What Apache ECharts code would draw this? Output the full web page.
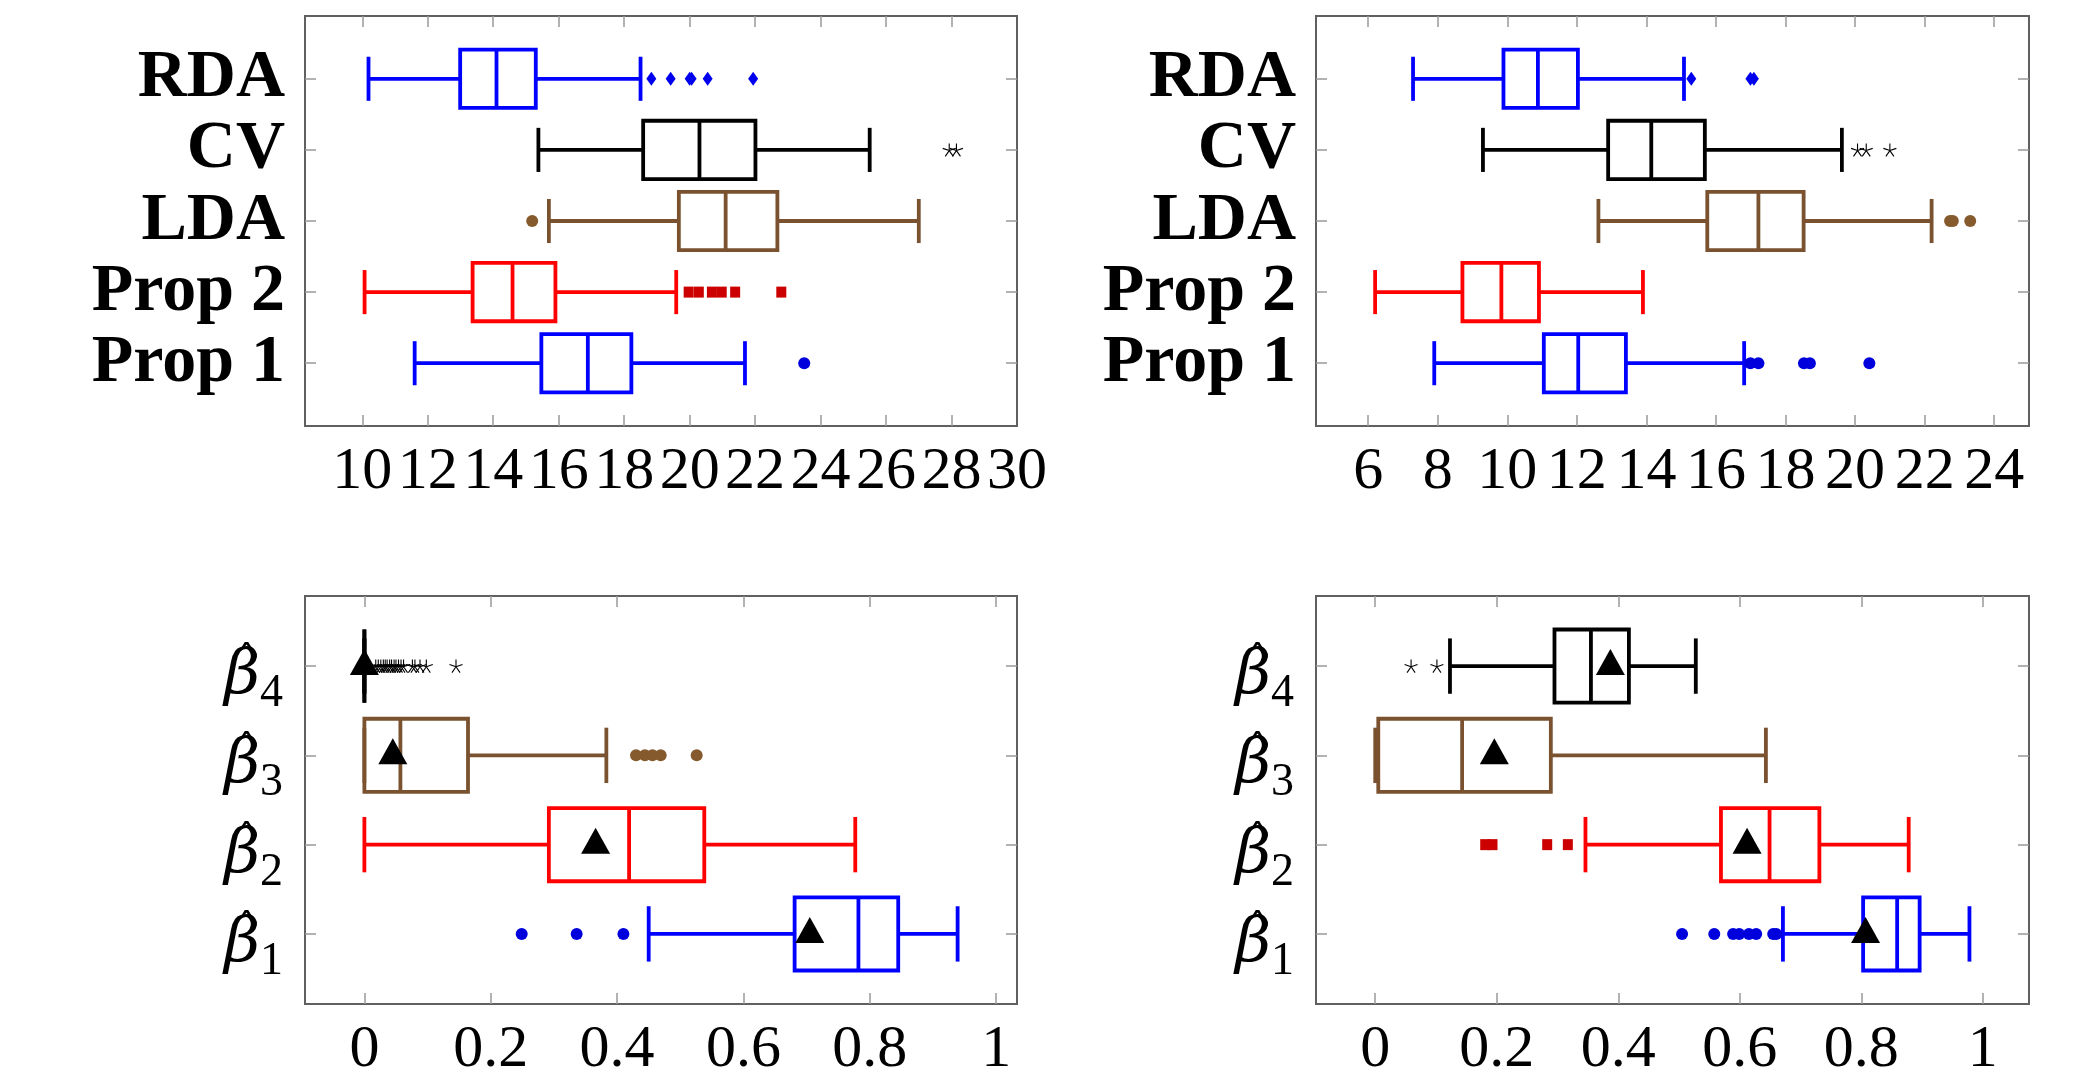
<!DOCTYPE html>
<html><head><meta charset="utf-8">
<script src="https://cdn.jsdelivr.net/npm/echarts@6/dist/echarts.min.js"></script>
<style>html,body{margin:0;padding:0;background:#fff}#c{width:2092px;height:1080px}</style>
</head><body><div id="c"></div>
<script>
// ---------- DATA ----------
// categories, bottom to top
const methodNames = ['Prop 1', 'Prop 2', 'LDA', 'CV', 'RDA'];
const betaNames = ['1', '2', '3', '4'];

// tick values / labels
const tlTicks = [10, 12, 14, 16, 18, 20, 22, 24, 26, 28];
const tlLabels = [10, 12, 14, 16, 18, 20, 22, 24, 26, 28, 30];
const trTicks = [6, 8, 10, 12, 14, 16, 18, 20, 22, 24];
const trLabels = [6, 8, 10, 12, 14, 16, 18, 20, 22, 24];
const betaTicks = [0, 0.2, 0.4, 0.6, 0.8, 1];
const betaLabels = [0, 0.2, 0.4, 0.6, 0.8, 1];

// boxes: [lower whisker, Q1, median, Q3, upper whisker], bottom to top
const tlBoxes = [
  [11.6, 15.47, 16.89, 18.22, 21.69],
  [10.07, 13.37, 14.59, 15.9, 19.59],
  [15.7, 19.67, 21.1, 22.68, 27.0],
  [15.38, 18.58, 20.3, 22.01, 25.5],
  [10.19, 12.99, 14.1, 15.3, 18.5]
];
const tlOutliers = [
  [23.5],
  [19.97, 20.28, 20.68, 20.98, 21.39, 22.8],
  [15.19],
  [27.93, 28.15],
  [18.83, 19.42, 20.0, 20.06, 20.55, 21.94]
];
const trBoxes = [
  [7.9, 11.05, 12.04, 13.41, 16.81],
  [6.2, 8.71, 9.83, 10.91, 13.9],
  [12.62, 15.75, 17.22, 18.52, 22.2],
  [9.3, 12.9, 14.14, 15.68, 19.62],
  [7.29, 9.89, 10.88, 12.03, 15.08]
];
const trOutliers = [
  [16.99, 17.22, 18.53, 18.7, 20.41],
  [],
  [22.73, 22.81, 23.31],
  [20.07, 20.32, 21.0],
  [15.29, 16.99, 17.09]
];
const blBoxes = [
  [0.45, 0.681, 0.782, 0.845, 0.939],
  [0, 0.292, 0.419, 0.538, 0.777],
  [0, 0, 0.057, 0.164, 0.383],
  [0, 0, 0, 0, 0]
];
const blMeans = [0.705, 0.366, 0.045, 0.0];
const blOutliers = [
  [0.249, 0.336, 0.41],
  [],
  [0.43, 0.444, 0.456, 0.469, 0.526],
  [0.018, 0.022, 0.026, 0.03, 0.033, 0.036, 0.04, 0.043, 0.047, 0.05, 0.054, 0.058, 0.062, 0.076, 0.08, 0.088, 0.098, 0.145]
];
const brBoxes = [
  [0.671, 0.803, 0.859, 0.896, 0.978],
  [0.346, 0.569, 0.649, 0.731, 0.878],
  [0, 0.005, 0.143, 0.289, 0.643],
  [0.123, 0.295, 0.355, 0.4175, 0.5276]
];
const brMeans = [0.807, 0.612, 0.196, 0.387];
const brOutliers = [
  [0.505, 0.558, 0.589, 0.599, 0.615, 0.627, 0.655, 0.66],
  [0.181, 0.193, 0.283, 0.317],
  [],
  [0.059, 0.1015]
];

// ---------- STYLE ----------
const BLUE = '#0000ff', RED = '#ff0000', BROWN = '#7a5230', BLACK = '#000000';
const methodColors = [BLUE, RED, BROWN, BLACK, BLUE];
const betaColors = [BLUE, RED, BROWN, BLACK];
const STAR = 'path://M0,0L0,-10M0,0L9.51,-3.09M0,0L5.88,8.09M0,0L-5.88,8.09M0,0L-9.51,-3.09';
const methodMarks = [
  {symbol: 'circle', size: 12, color: '#0000dd'},
  {symbol: 'rect', size: [10, 11], color: '#cc0000'},
  {symbol: 'circle', size: 12, color: '#855a2c'},
  {symbol: STAR, size: [13, 13], color: 'star'},
  {symbol: 'diamond', size: [10, 14], color: '#0000ee'}
];
const betaMarks = [methodMarks[0], methodMarks[1], methodMarks[2], methodMarks[3]];

const BOX_H = 0.82, CAP_H = 0.62, LW = 3.8;
const GRID_BORDER = '#606060';
const TICK_COLOR = '#999';
const FONT = 'Liberation Serif';

const panels = [
  {grid: {left: 305, top: 16, width: 712, height: 410}, xMin: 8.25, xMax: 30, yMin: 0.117, yMax: 5.883,
   ticks: tlTicks, labels: tlLabels, boxes: tlBoxes, outliers: tlOutliers, means: null, kind: 'method'},
  {grid: {left: 1316, top: 16, width: 713, height: 410}, xMin: 4.5, xMax: 25, yMin: 0.117, yMax: 5.883,
   ticks: trTicks, labels: trLabels, boxes: trBoxes, outliers: trOutliers, means: null, kind: 'method'},
  {grid: {left: 305, top: 596, width: 712, height: 409}, xMin: -0.094, xMax: 1.033, yMin: 0.215, yMax: 4.785,
   ticks: betaTicks, labels: betaLabels, boxes: blBoxes, outliers: blOutliers, means: blMeans, kind: 'beta'},
  {grid: {left: 1316, top: 596, width: 713, height: 409}, xMin: -0.0975, xMax: 1.076, yMin: 0.215, yMax: 4.785,
   ticks: betaTicks, labels: betaLabels, boxes: brBoxes, outliers: brOutliers, means: brMeans, kind: 'beta'}
];

function boxRender(colors) {
  return function (params, api) {
    const y = api.value(0);
    const pLo = api.coord([api.value(1), y]);
    const pQ1 = api.coord([api.value(2), y]);
    const pMd = api.coord([api.value(3), y]);
    const pQ3 = api.coord([api.value(4), y]);
    const pHi = api.coord([api.value(5), y]);
    const boxH = Math.abs(api.size([0, BOX_H])[1]);
    const capH = Math.abs(api.size([0, CAP_H])[1]);
    const c = colors[params.dataIndex];
    const st = {stroke: c, lineWidth: LW, fill: null};
    const cy = pLo[1];
    return {type: 'group', children: [
      {type: 'line', shape: {x1: pLo[0], y1: cy, x2: pQ1[0], y2: cy}, style: st},
      {type: 'line', shape: {x1: pQ3[0], y1: cy, x2: pHi[0], y2: cy}, style: st},
      {type: 'line', shape: {x1: pLo[0], y1: cy - capH / 2, x2: pLo[0], y2: cy + capH / 2}, style: st},
      {type: 'line', shape: {x1: pHi[0], y1: cy - capH / 2, x2: pHi[0], y2: cy + capH / 2}, style: st},
      {type: 'rect', shape: {x: pQ1[0], y: cy - boxH / 2, width: pQ3[0] - pQ1[0], height: boxH},
       style: {stroke: c, lineWidth: LW, fill: 'none'}},
      {type: 'line', shape: {x1: pMd[0], y1: cy - boxH / 2, x2: pMd[0], y2: cy + boxH / 2}, style: st}
    ]};
  };
}

const grid = [], xAxis = [], yAxis = [], series = [];
panels.forEach((p, i) => {
  grid.push(Object.assign({show: true, borderColor: GRID_BORDER, borderWidth: 2, backgroundColor: '#fff'}, p.grid));
  const tick = {show: true, inside: true, length: 11, lineStyle: {color: TICK_COLOR, width: 1.5}};
  const noLine = {show: false, onZero: false};
  const xIdx = xAxis.length;
  xAxis.push({
    type: 'value', gridIndex: i, min: p.xMin, max: p.xMax, position: 'bottom',
    axisLine: noLine, splitLine: {show: false},
    axisTick: Object.assign({customValues: p.ticks}, tick),
    axisLabel: {customValues: p.labels, fontFamily: FONT, fontSize: 60, color: '#000', margin: 16,
      hideOverlap: false, formatter: v => String(v)}
  });
  xAxis.push({
    type: 'value', gridIndex: i, min: p.xMin, max: p.xMax, position: 'top',
    axisLine: noLine, splitLine: {show: false},
    axisTick: Object.assign({customValues: p.ticks}, tick),
    axisLabel: {show: false}
  });
  const names = p.kind === 'method' ? methodNames : betaNames;
  const cats = names.map((_, k) => k + 1);
  const yIdx = yAxis.length;
  yAxis.push({
    type: 'value', gridIndex: i, min: p.yMin, max: p.yMax, position: 'left',
    axisLine: noLine, splitLine: {show: false},
    axisTick: Object.assign({customValues: cats}, tick),
    axisLabel: p.kind === 'method' ? {
      customValues: cats, fontFamily: FONT, fontWeight: 'bold', fontSize: 68, color: '#000', margin: 20,
      hideOverlap: false, formatter: v => names[Math.round(v) - 1]
    } : {
      customValues: cats, margin: 22, hideOverlap: false, padding: [22, 0, 0, 0],
      formatter: v => '{b|\u03B2}{s|' + names[Math.round(v) - 1] + '}',
      rich: {
        b: {fontFamily: 'DejaVu Serif', fontStyle: 'italic', fontSize: 62, color: '#000'},
        s: {fontFamily: FONT, fontSize: 46, color: '#000', padding: [34, 0, 0, 0]}
      }
    }
  });
  if (p.kind === 'beta') {
    // hat accents over the beta labels
    yAxis.push({
      type: 'value', gridIndex: i, min: p.yMin, max: p.yMax, position: 'left',
      axisLine: noLine, splitLine: {show: false}, axisTick: {show: false},
      axisLabel: {customValues: cats, margin: 48, hideOverlap: false, padding: [0, 0, 40, 0],
        fontFamily: 'DejaVu Serif', fontSize: 42, color: '#000', formatter: () => '\u02C6'}
    });
  }
  yAxis.push({
    type: 'value', gridIndex: i, min: p.yMin, max: p.yMax, position: 'right',
    axisLine: noLine, splitLine: {show: false},
    axisTick: Object.assign({customValues: cats}, tick),
    axisLabel: {show: false}
  });
  const colors = p.kind === 'method' ? methodColors : betaColors;
  const marks = p.kind === 'method' ? methodMarks : betaMarks;
  series.push({
    type: 'custom', xAxisIndex: xIdx, yAxisIndex: yIdx, z: 2,
    renderItem: boxRender(colors),
    encode: {x: [1, 2, 3, 4, 5], y: 0},
    data: p.boxes.map((b, k) => [k + 1].concat(b))
  });
  p.outliers.forEach((arr, k) => {
    if (!arr.length) return;
    const m = marks[k];
    const isStar = m.color === 'star';
    series.push({
      type: 'scatter', xAxisIndex: xIdx, yAxisIndex: yIdx, z: 3,
      symbol: m.symbol, symbolSize: m.size,
      itemStyle: isStar ? {color: 'rgba(0,0,0,0)', borderColor: '#000', borderWidth: 1.1, opacity: 1}
                        : {color: m.color, opacity: 1},
      emphasis: {disabled: true},
      data: arr.map(v => [v, k + 1])
    });
  });
  if (p.means) {
    series.push({
      type: 'scatter', xAxisIndex: xIdx, yAxisIndex: yIdx, z: 4,
      symbol: 'triangle', symbolSize: [29, 26], symbolOffset: [0, -4],
      itemStyle: {color: '#000', opacity: 1}, emphasis: {disabled: true},
      data: p.means.map((v, k) => [v, k + 1])
    });
  }
});

const chart = echarts.init(document.getElementById('c'), null, {renderer: 'canvas'});
chart.setOption({animation: false, backgroundColor: '#fff', grid, xAxis, yAxis, series});
</script></body></html>
